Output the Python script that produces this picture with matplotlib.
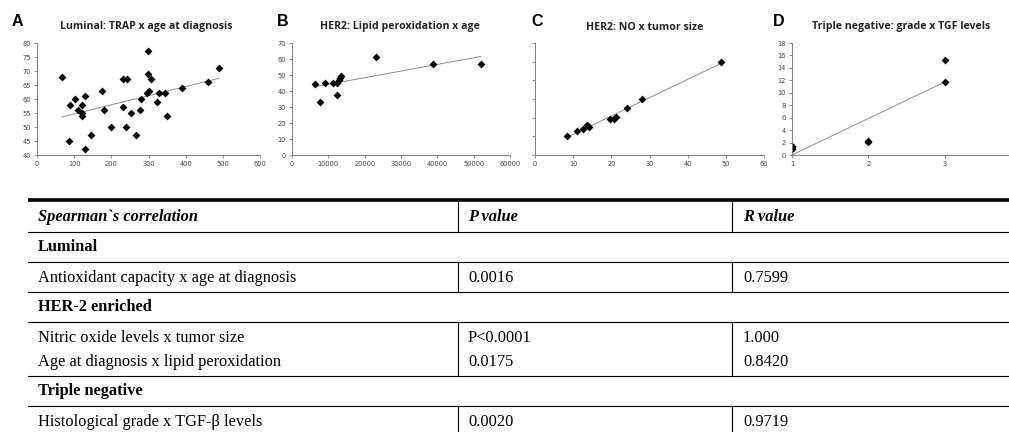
import numpy as np
import matplotlib
matplotlib.use("Agg")
import matplotlib.pyplot as plt

# panel A: TRAP x age at diagnosis (luminal)
trap = [66, 88, 86, 101, 111, 121, 121, 121, 129, 129, 144, 176, 179, 198, 232, 232,
        243, 239, 254, 266, 277, 281, 299, 299, 295, 300, 308, 324, 327, 344, 351, 391, 460, 490]
age_lum = [68, 58, 45, 60, 56, 58, 55, 54, 61, 42, 47, 63, 56, 50, 67, 57,
           67, 50, 55, 47, 56, 60, 77, 69, 62, 63, 67, 59, 62, 62, 54, 64, 66, 71]

# panel B: lipid peroxidation x age (HER2)
lipid = [6400, 7770, 9050, 11150, 12520, 12520, 12800, 13250, 13620, 23130, 38850, 52100]
age_her2 = [44.3, 33, 45, 45, 37.2, 45, 46.8, 48, 49.3, 61, 57, 57]

# panel C: NO x tumor size (HER2)
tumor = [8.3, 10.9, 12.7, 13.7, 14.2, 19.7, 20.8, 21.2, 24.1, 28.1, 48.8]
no_lvl = [10, 13.1, 14, 16.2, 15.1, 19.3, 19.2, 20.4, 25.2, 30.1, 49.8]

# panel D: grade x TGF levels (triple negative)
grade = [1, 1, 1, 2, 2, 3, 3]
tgf = [1.0, 1.3, 1.4, 2.1, 2.3, 11.8, 15.3]

# table
groups = ["Luminal", "HER-2 enriched", "Triple negative"]
rows = [["Antioxidant capacity x age at diagnosis"],
        ["Nitric oxide levels x tumor size", "Age at diagnosis x lipid peroxidation"],
        ["Histological grade x TGF-\u03b2 levels"]]
pvals = [["0.0016"], ["P<0.0001", "0.0175"], ["0.0020"]]
rvals = [["0.7599"], ["1.000", "0.8420"], ["0.9719"]]

W, H = 1009, 432
fig = plt.figure(figsize=(W / 100, H / 100), dpi=100)

def px_axes(x0, x1, y_top, y_bot):
    return fig.add_axes([x0 / W, 1 - y_bot / H, (x1 - x0) / W, (y_bot - y_top) / H])

panels = [
    (px_axes(37, 260, 43, 155), trap, age_lum, (0, 600), (40, 80), np.arange(0, 601, 100), np.arange(40, 81, 5), True),
    (px_axes(292, 510, 43, 155), lipid, age_her2, (0, 60000), (0, 70), np.arange(0, 60001, 10000), np.arange(0, 71, 10), True),
    (px_axes(535, 764, 43, 155), tumor, no_lvl, (0, 60), (0, 60), np.arange(0, 61, 10), np.arange(0, 61, 10), False),
    (px_axes(792, 1021, 43, 155), grade, tgf, (1, 4), (0, 18), [1, 2, 3], np.arange(0, 19, 2), True),
]

for ax, xs, ys, xl, yl, xt, yt, ylab in panels:
    xs = np.array(xs, float)
    ys = np.array(ys, float)
    k, b = np.polyfit(xs, ys, 1)
    xx = np.array([xs.min(), xs.max()])
    ax.plot(xx, k * xx + b, color="#8c8c8c", lw=0.7, zorder=1)
    ax.scatter(xs, ys, marker="D", s=16, color="black", zorder=2, linewidths=0)
    ax.set_xlim(*xl)
    ax.set_ylim(*yl)
    ax.set_xticks(xt)
    ax.set_yticks(yt)
    if not ylab:
        ax.set_yticklabels([])
    for s in ["top", "right"]:
        ax.spines[s].set_visible(False)
    for s in ["left", "bottom"]:
        ax.spines[s].set_color("#7f7f7f")
        ax.spines[s].set_linewidth(0.7)
    ax.tick_params(labelsize=4.8, colors="#7f7f7f", labelcolor="#404040",
                   length=2, width=0.6, pad=2.5)
    ax.patch.set_alpha(0)

# overlay in pixel coordinates for titles and table
ov = fig.add_axes([0, 0, 1, 1], zorder=-1)
ov.set_xlim(0, W)
ov.set_ylim(H, 0)
ov.axis("off")

letters = ["A", "B", "C", "D"]
letter_x = [12, 277, 531, 773]
titles = ["Luminal: TRAP x age at diagnosis", "HER2: Lipid peroxidation x age",
          "HER2: NO x tumor size", "Triple negative: grade x TGF levels"]
title_x = [146, 400, 645, 901]
for l, lx, t, tx in zip(letters, letter_x, titles, title_x):
    ov.text(lx, 22, l, fontsize=11.5, fontweight="bold", family="Liberation Sans",
            ha="left", va="center")
    ov.text(tx, 27, t, fontsize=7.6, fontweight="bold", family="Open Sans",
            ha="center", va="center", color="#222222")

serif = "Liberation Serif"
fs = 11.8
c1, c2 = 458, 732
tx0, tx1, tx2 = 38, 468, 743

ov.plot([28, W], [200, 200], color="black", lw=2.6, solid_capstyle="butt")
ov.text(tx0, 217, "Spearman`s correlation", family=serif, fontsize=fs,
        fontweight="bold", style="italic", va="center")
ov.text(tx1, 217, "P value", family=serif, fontsize=fs,
        fontweight="bold", style="italic", va="center")
ov.text(tx2, 217, "R value", family=serif, fontsize=fs,
        fontweight="bold", style="italic", va="center")
ov.plot([c1, c1], [201, 232], color="black", lw=0.8)
ov.plot([c2, c2], [201, 232], color="black", lw=0.8)
ov.plot([28, W], [232, 232], color="black", lw=0.8)

y = 232
for g, rr, pp, rv in zip(groups, rows, pvals, rvals):
    ov.text(tx0, y + 15, g, family=serif, fontsize=fs, fontweight="bold", va="center")
    y += 30
    ov.plot([28, W], [y, y], color="black", lw=0.8)
    top = y
    for i, (r, p, v) in enumerate(zip(rr, pp, rv)):
        yy = y + 16 + i * 24
        ov.text(tx0, yy, r, family=serif, fontsize=fs, va="center")
        ov.text(tx1, yy, p, family=serif, fontsize=fs, va="center")
        ov.text(tx2, yy, v, family=serif, fontsize=fs, va="center")
    y = top + 30 + 24 * (len(rr) - 1)
    ov.plot([c1, c1], [top, y], color="black", lw=0.8)
    ov.plot([c2, c2], [top, y], color="black", lw=0.8)
    ov.plot([28, W], [y, y], color="black", lw=0.8)

fig.savefig("out.png", dpi=100)
